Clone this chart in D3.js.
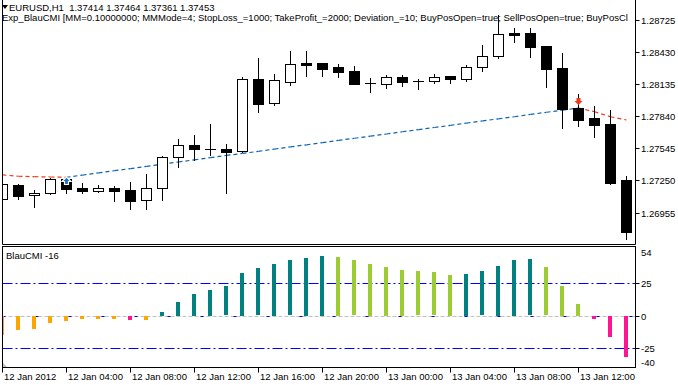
<!DOCTYPE html>
<html>
<head>
<meta charset="utf-8">
<script src="https://cdnjs.cloudflare.com/ajax/libs/d3/7.8.5/d3.min.js"></script>
<style>
    body { margin: 0; background: #fff; }
    svg { display: block; font-family: 'Liberation Sans', Arial, sans-serif; font-size: 9.5px; }
</style>
</head>
<body>
<div id="chart"></div>
<script>
// EURUSD H1, 12 Jan 2012 00:00 .. 13 Jan 2012 15:00
var barTimes = [
    '2012-01-12T00:00', '2012-01-12T01:00', '2012-01-12T02:00', '2012-01-12T03:00', '2012-01-12T04:00',
    '2012-01-12T05:00', '2012-01-12T06:00', '2012-01-12T07:00', '2012-01-12T08:00', '2012-01-12T09:00',
    '2012-01-12T10:00', '2012-01-12T11:00', '2012-01-12T12:00', '2012-01-12T13:00', '2012-01-12T14:00',
    '2012-01-12T15:00', '2012-01-12T16:00', '2012-01-12T17:00', '2012-01-12T18:00', '2012-01-12T19:00',
    '2012-01-12T20:00', '2012-01-12T21:00', '2012-01-12T22:00', '2012-01-12T23:00', '2012-01-13T00:00',
    '2012-01-13T01:00', '2012-01-13T02:00', '2012-01-13T03:00', '2012-01-13T04:00', '2012-01-13T05:00',
    '2012-01-13T06:00', '2012-01-13T07:00', '2012-01-13T08:00', '2012-01-13T09:00', '2012-01-13T10:00',
    '2012-01-13T11:00', '2012-01-13T12:00', '2012-01-13T13:00', '2012-01-13T14:00', '2012-01-13T15:00'
]
var open = [
    1.27077, 1.27209, 1.27114, 1.27132, 1.27261, 1.27178, 1.27156, 1.27178, 1.27160, 1.27068,
    1.27178, 1.27463, 1.27576, 1.27537, 1.27540, 1.27518, 1.28180, 1.27960, 1.28158, 1.28330,
    1.28330, 1.28293, 1.28256, 1.28143, 1.28134, 1.28201, 1.28164, 1.28162, 1.28210, 1.28180,
    1.28290, 1.28391, 1.28603, 1.28603, 1.28486, 1.28281, 1.27914, 1.27822, 1.27767, 1.27252
]
var high = [
    1.27227, 1.27218, 1.27160, 1.27270, 1.27265, 1.27227, 1.27206, 1.27197, 1.27233, 1.27310,
    1.27475, 1.27631, 1.27665, 1.27769, 1.27583, 1.28201, 1.28376, 1.28229, 1.28440, 1.28440,
    1.28332, 1.28323, 1.28302, 1.28189, 1.28220, 1.28220, 1.28180, 1.28229, 1.28212, 1.28309,
    1.28495, 1.28771, 1.28649, 1.28649, 1.28488, 1.28419, 1.28045, 1.27935, 1.27898, 1.27294
]
var low = [
    1.27062, 1.27083, 1.27009, 1.27130, 1.27138, 1.27138, 1.27147, 1.27064, 1.26991, 1.26991,
    1.27074, 1.27371, 1.27438, 1.27484, 1.27138, 1.27515, 1.27882, 1.27947, 1.28130, 1.28213,
    1.28213, 1.28204, 1.28134, 1.28066, 1.28100, 1.28121, 1.28094, 1.28143, 1.28143, 1.28162,
    1.28259, 1.28376, 1.28526, 1.28388, 1.28112, 1.27735, 1.27754, 1.27653, 1.27221, 1.26712
]
var close = [
    1.27215, 1.27110, 1.27132, 1.27261, 1.27175, 1.27156, 1.27178, 1.27156, 1.27064, 1.27178,
    1.27463, 1.27576, 1.27537, 1.27540, 1.27515, 1.28180, 1.27950, 1.28171, 1.28318, 1.28314,
    1.28277, 1.28250, 1.28140, 1.28143, 1.28198, 1.28158, 1.28164, 1.28198, 1.28180, 1.28290,
    1.28391, 1.28594, 1.28590, 1.28480, 1.28277, 1.27907, 1.27809, 1.27763, 1.27230, 1.26774
]
// пунктирная линия на графике цены
var trendLine = [
    1.27301, 1.27289, 1.27285, 1.27282, 1.27279, 1.27300, 1.27320, 1.27340, 1.27359, 1.27380,
    1.27400, 1.27420, 1.27440, 1.27460, 1.27480, 1.27499, 1.27518, 1.27539, 1.27559, 1.27578,
    1.27598, 1.27619, 1.27638, 1.27658, 1.27677, 1.27698, 1.27718, 1.27737, 1.27757, 1.27778,
    1.27797, 1.27817, 1.27836, 1.27857, 1.27877, 1.27896, 1.27916, 1.27882, 1.27836, 1.27806
]
// BlauCMI
var cmi = [
    -14.5, -11.1, -9.8, -5.7, -4.2, -2.6, -2.1, -2.0, -3.4, -2.9,
    2.8, 10.5, 16.7, 20.3, 22.7, 33.0, 36.6, 39.9, 42.8, 45.1,
    46.1, 45.8, 42.8, 40.4, 38.1, 35.8, 34.3, 33.5, 31.9, 32.7,
    34.3, 38.9, 43.5, 43.6, 37.4, 23.4, 9.5, -2.1, -16.0, -31.5
]
var signals = [
    { bar: 4, type: 'buy' },
    { bar: 36, type: 'sell' }
]
var priceTicks = [1.28725, 1.28430, 1.28135, 1.27840, 1.27545, 1.27250, 1.26955]
var cmiTicks = [54, 25, 0, -25, -40]
var cmiLevels = [25, 0, -25]
var timeTicks = [
    '2012-01-12T00:00', '2012-01-12T04:00', '2012-01-12T08:00', '2012-01-12T12:00', '2012-01-12T16:00',
    '2012-01-12T20:00', '2012-01-13T00:00', '2012-01-13T04:00', '2012-01-13T08:00', '2012-01-13T12:00'
]
var timeLabels = [
    '12 Jan 2012', '12 Jan 04:00', '12 Jan 08:00', '12 Jan 12:00', '12 Jan 16:00',
    '12 Jan 20:00', '13 Jan 00:00', '13 Jan 04:00', '13 Jan 08:00', '13 Jan 12:00'
]
var headerLine1 = 'EURUSD,H1  1.37414 1.37464 1.37361 1.37453'
// строка обрезана краем графика, как на скриншоте
var headerLine2 = 'Exp_BlauCMI [MM=0.10000000; MMMode=4; StopLoss_=1000; TakeProfit_=2000; Deviation_=10; BuyPosOpen=true; SellPosOpen=true; BuyPosCl'
var subTitle = 'BlauCMI -16'

var width = 678,
    height = 385,
    left = 2.5,
    right = 635.5,
    mainBottom = 244.5,
    subTop = 246.5,
    subBottom = 367.5

var parse = d3.utcParse('%Y-%m-%dT%H:%M')
var bars = barTimes.map(function (t, i) {
    return { t: parse(t), o: open[i], h: high[i], l: low[i], c: close[i], v: cmi[i], line: trendLine[i] }
})

var x = d3.scaleUtc()
    .domain([bars[0].t, bars[bars.length - 1].t])
    .range([2.5, 626.5])
var yP = d3.scaleLinear().domain([1.26666, 1.28909]).range([244, 0])
var yC = d3.scaleLinear().domain([-40, 54]).range([367.5, 246])

var svg = d3.select('#chart').append('svg')
    .attr('width', width)
    .attr('height', height)

var defs = svg.append('defs')
defs.append('clipPath').attr('id', 'clipMain')
    .append('rect').attr('x', 3).attr('y', 0).attr('width', right - 3.5).attr('height', mainBottom)
defs.append('clipPath').attr('id', 'clipSub')
    .append('rect').attr('x', 3).attr('y', subTop + 0.5).attr('width', right - 3.5).attr('height', subBottom - subTop - 1)
defs.append('clipPath').attr('id', 'clipText')
    .append('rect').attr('x', 0).attr('y', 0).attr('width', right).attr('height', mainBottom)

// заголовок
var head = svg.append('g').attr('clip-path', 'url(#clipText)')
head.append('path')
    .attr('d', 'M2,5 L8,5 L5,9 Z')
    .attr('fill', '#000')
head.append('text')
    .attr('x', 9).attr('y', 10.5)
    .style('white-space', 'pre')
    .text(headerLine1)
head.append('text')
    .attr('x', 2).attr('y', 20.5)
    .text(headerLine2)

// TITLE: свечи
var main = svg.append('g').attr('clip-path', 'url(#clipMain)')

// линия, цвет по направлению
var segs = d3.pairs(bars)
main.selectAll('.seg')
    .data(segs)
    .enter()
    .append('line')
    .attr('x1', function (d) { return x(d[0].t) })
    .attr('x2', function (d) { return x(d[1].t) })
    .attr('y1', function (d) { return yP(d[0].line) })
    .attr('y2', function (d) { return yP(d[1].line) })
    .style('stroke', function (d) { return d[1].line > d[0].line ? '#0b62b8' : '#ee3a1c' })
    .style('stroke-width', 1.2)
    .style('stroke-dasharray', '4,3')

var candle = main.selectAll('.candle')
    .data(bars)
    .enter()
    .append('g')

candle.append('line')
    .attr('x1', function (d) { return x(d.t) })
    .attr('x2', function (d) { return x(d.t) })
    .attr('y1', function (d) { return Math.round(yP(d.h)) })
    .attr('y2', function (d) { return Math.round(yP(d.l)) + 1 })
    .style('stroke', '#000')
    .style('stroke-width', 1)

candle.append('rect')
    .attr('x', function (d) { return x(d.t) - 5 })
    .attr('width', 10)
    .attr('y', function (d) { return Math.round(yP(Math.max(d.o, d.c))) + 0.5 })
    .attr('height', function (d) {
        var hh = Math.round(yP(Math.min(d.o, d.c))) - Math.round(yP(Math.max(d.o, d.c)))
        return Math.max(hh, 0.01)
    })
    .style('fill', function (d) { return d.c >= d.o ? '#fff' : '#000' })
    .style('stroke', '#000')
    .style('stroke-width', 1)

// стрелки сигналов
signals.forEach(function (s) {
    var d = bars[s.bar],
        cx = x(d.t),
        cy = Math.round(yP(d.o))
    if (s.type === 'buy') {
        main.append('path')
            .attr('d', 'M' + cx + ',' + (cy - 2) + ' l4.5,4.5 l-2.5,0 l0,3 l-4,0 l0,-3 l-2.5,0 Z')
            .style('fill', '#1a6fd0')
            .style('stroke', '#fff')
            .style('stroke-width', 1.2)
    } else {
        main.append('path')
            .attr('d', 'M' + cx + ',' + (cy - 3) + ' l-4,-4 l2,0 l0,-3 l4,0 l0,3 l2,0 Z')
            .style('fill', '#ee3a1c')
    }
})

// TITLE: BlauCMI
var sub = svg.append('g').attr('clip-path', 'url(#clipSub)')

// нулевой уровень серый пунктир
sub.append('line')
    .attr('x1', left).attr('x2', right)
    .attr('y1', Math.round(yC(0)) + 0.5).attr('y2', Math.round(yC(0)) + 0.5)
    .style('stroke', '#c0c0c0')
    .style('stroke-width', 1)
    .style('stroke-dasharray', '4,2')

sub.selectAll('.level')
    .data(cmiLevels)
    .enter()
    .append('line')
    .attr('x1', left).attr('x2', right)
    .attr('y1', function (d) { return Math.round(yC(d)) + 0.5 })
    .attr('y2', function (d) { return Math.round(yC(d)) + 0.5 })
    .style('stroke', '#0000ff')
    .style('stroke-width', 1)
    .style('stroke-dasharray', function (d) { return d === 0 ? '3,30' : '10,3,2,3' })

// цвет: растет / падает выше и ниже нуля
function barColor(d, i) {
    var prev = i > 0 ? bars[i - 1].v : -Infinity
    if (d.v >= 0) return d.v >= prev ? '#008080' : '#9acd32'
    return d.v >= prev ? '#ffa500' : '#ff1493'
}

sub.selectAll('.hist')
    .data(bars)
    .enter()
    .append('rect')
    .attr('x', function (d) { return x(d.t) - 2.5 })
    .attr('width', 4)
    .attr('y', function (d) { return Math.round(Math.min(yC(0), yC(d.v))) })
    .attr('height', function (d) { return Math.max(1, Math.round(Math.abs(yC(0) - yC(d.v)))) })
    .style('fill', barColor)

sub.append('path')
    .attr('d', 'M3,363 L3,367 L7,367 Z')
    .style('fill', '#c0c0c0')

svg.append('text')
    .attr('x', 6).attr('y', 259)
    .text(subTitle)

// рамки
var frame = svg.append('g')
    .style('stroke', '#000')
    .style('stroke-width', 1)
    .style('fill', 'none')
frame.append('path').attr('d', 'M' + left + ',0 V' + mainBottom + ' H' + right + ' V0')
frame.append('rect')
    .attr('x', left).attr('y', subTop)
    .attr('width', right - left).attr('height', subBottom - subTop)

// шкала цены
var pAxis = svg.append('g').selectAll('g')
    .data(priceTicks)
    .enter()
    .append('g')
    .attr('transform', function (d) { return 'translate(' + right + ',' + (Math.round(yP(d)) + 0.5) + ')' })
pAxis.append('line').attr('x1', 0).attr('x2', 4).style('stroke', '#000')
pAxis.append('text')
    .attr('x', 5.5).attr('dy', '0.35em')
    .text(function (d) { return d.toFixed(5) })

// шкала CMI
var cAxis = svg.append('g').selectAll('g')
    .data(cmiTicks)
    .enter()
    .append('g')
    .attr('transform', function (d) {
        var yy = Math.round(yC(d)) + 0.5
        if (d === d3.max(cmiTicks)) yy += 6
        if (d === d3.min(cmiTicks)) yy -= 6
        return 'translate(' + right + ',' + yy + ')'
    })
cAxis.filter(function (d) { return cmiLevels.indexOf(d) >= 0 })
    .append('line').attr('x1', 0).attr('x2', 4).style('stroke', '#000')
cAxis.append('text')
    .attr('x', 5.5).attr('dy', '0.35em')
    .text(function (d) { return d })

// шкала времени
var tAxis = svg.append('g').selectAll('g')
    .data(timeTicks)
    .enter()
    .append('g')
    .attr('transform', function (d) { return 'translate(' + x(parse(d)) + ',' + subBottom + ')' })
tAxis.append('line').attr('y1', 0).attr('y2', 5).style('stroke', '#000')
tAxis.append('text')
    .attr('x', 1.5).attr('y', 12.5)
    .text(function (d, i) { return timeLabels[i] })
</script>
</body>
</html>
